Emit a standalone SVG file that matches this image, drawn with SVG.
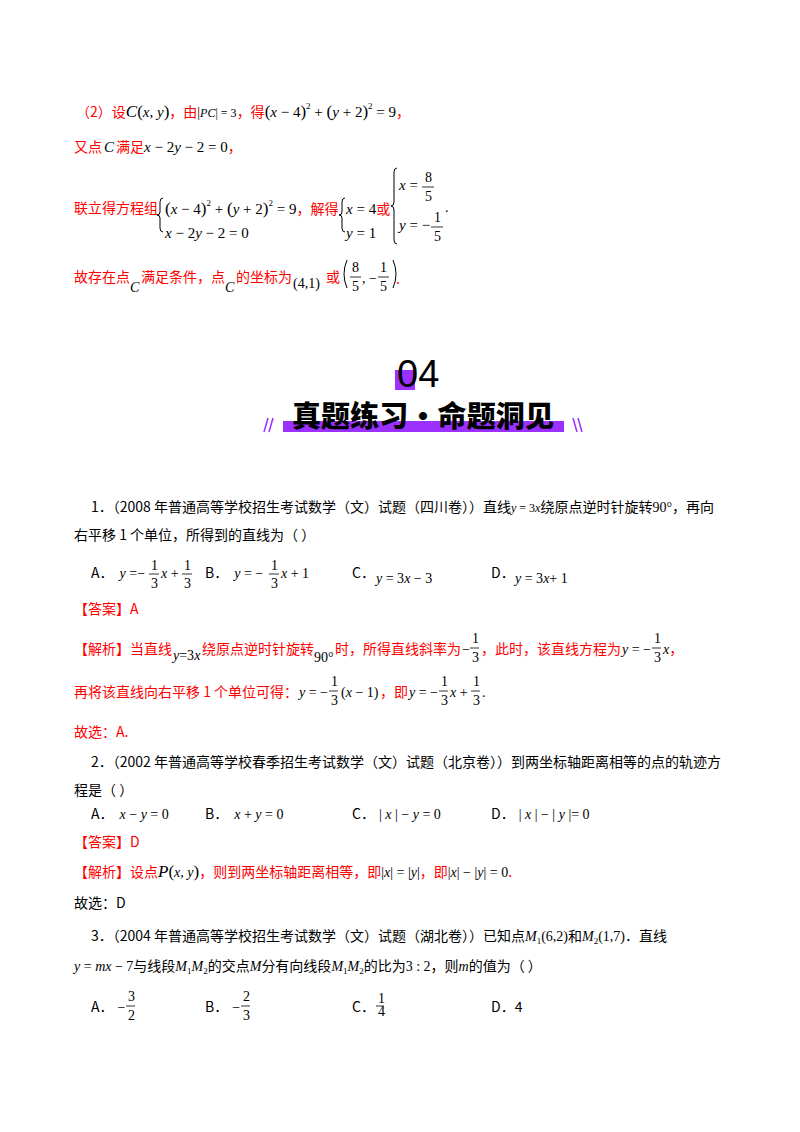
<svg xmlns="http://www.w3.org/2000/svg" width="800" height="1132" viewBox="0 0 800 1132">
<style>
text{font-family:"Liberation Serif","Noto Sans CJK SC",serif;font-size:14px;fill:#000}
.r{fill:#f00;font-family:"Noto Sans CJK SC",sans-serif;font-size:14px}
.k{fill:#000;font-family:"Noto Sans CJK SC",sans-serif;font-size:14px}
.m{font-family:"Liberation Serif",serif;font-style:italic;fill:#000}
.n{font-family:"Liberation Serif",serif;fill:#000}
.p{fill:#9b30ff}
line{stroke:#000;stroke-width:0.8}
.b{fill:none;stroke:#000;stroke-width:1}
</style>
<rect width="800" height="1132" fill="#fff"/>
<g id="part2">
<text x="76" y="117" font-size="15"><tspan class="r">（2）设</tspan><tspan class="m" font-size="17">C</tspan><tspan class="n" font-size="17">(</tspan><tspan class="m" font-size="15">x, y</tspan><tspan class="n" font-size="17">)</tspan><tspan class="r">，由</tspan><tspan class="n">|</tspan><tspan class="m" font-size="12">PC</tspan><tspan class="n" font-size="12">| = 3</tspan><tspan class="r">，得</tspan><tspan class="n" font-size="17">(</tspan><tspan class="m" font-size="15">x</tspan><tspan class="n" font-size="15"> − 4</tspan><tspan class="n" font-size="17">)</tspan><tspan class="n" font-size="9" dy="-8">2</tspan><tspan class="n" font-size="15" dy="8"> + </tspan><tspan class="n" font-size="17">(</tspan><tspan class="m" font-size="15">y</tspan><tspan class="n" font-size="15"> + 2</tspan><tspan class="n" font-size="17">)</tspan><tspan class="n" font-size="9" dy="-8">2</tspan><tspan class="n" font-size="15" dy="8"> = 9</tspan><tspan class="r">，</tspan></text>
<text x="74" y="152"><tspan class="r">又点</tspan><tspan class="m" font-size="15" dx="2">C</tspan><tspan class="r" dx="2">满足</tspan><tspan class="m" font-size="15">x</tspan><tspan class="n" font-size="15"> − 2</tspan><tspan class="m" font-size="15">y</tspan><tspan class="n" font-size="15"> − 2 = 0</tspan><tspan class="r">，</tspan></text>
<text x="74" y="213" class="r">联立得方程组</text>
<path d="M163,198 q-3,0 -3,4 v10 q0,3 -3,3 q3,0 3,3 v10 q0,4 3,4" class="b"/>
<text x="165" y="214" font-size="15"><tspan class="n" font-size="17">(</tspan><tspan class="m" font-size="15">x</tspan><tspan class="n" font-size="15"> − 4</tspan><tspan class="n" font-size="17">)</tspan><tspan class="n" font-size="9" dy="-8">2</tspan><tspan class="n" font-size="15" dy="8"> + </tspan><tspan class="n" font-size="17">(</tspan><tspan class="m" font-size="15">y</tspan><tspan class="n" font-size="15"> + 2</tspan><tspan class="n" font-size="17">)</tspan><tspan class="n" font-size="9" dy="-8">2</tspan><tspan class="n" font-size="15" dy="8"> = 9</tspan><tspan class="r">，解得</tspan></text>
<text x="165" y="238" font-size="15"><tspan class="m" font-size="15">x</tspan><tspan class="n" font-size="15"> − 2</tspan><tspan class="m" font-size="15">y</tspan><tspan class="n" font-size="15"> − 2 = 0</tspan></text>
<path d="M345,198 q-3,0 -3,4 v10 q0,3 -3,3 q3,0 3,3 v10 q0,4 3,4" class="b"/>
<text x="346" y="214" font-size="15"><tspan class="m" font-size="15">x</tspan><tspan class="n" font-size="15"> = 4</tspan><tspan class="r">或</tspan></text>
<text x="346" y="238"><tspan class="m" font-size="15">y</tspan><tspan class="n" font-size="15"> = 1</tspan></text>
<path d="M397,168 q-3,0 -3,4 v30 q0,4 -3,4 q3,0 3,4 v30 q0,4 3,4" class="b"/>
<text x="399" y="190" font-size="15"><tspan class="m" font-size="15">x</tspan><tspan class="n" font-size="15"> = </tspan></text>
<text x="425" y="182" class="n" font-size="15">8</text><line x1="422" y1="187" x2="434" y2="187"/><text x="425" y="201" class="n" font-size="15">5</text>
<text x="399" y="230" font-size="15"><tspan class="m" font-size="15">y</tspan><tspan class="n" font-size="15"> = −</tspan></text>
<text x="434" y="222" class="n" font-size="15">1</text><line x1="431" y1="227" x2="443" y2="227"/><text x="434" y="241" class="n" font-size="15">5</text>
<text x="445" y="212" class="n" font-size="8">.</text>
<text x="74" y="282" class="r">故存在点</text>
<text x="130" y="292" class="m" font-size="15">C</text>
<text x="141" y="282" class="r">满足条件，点</text>
<text x="225" y="292" class="m" font-size="15">C</text>
<text x="236" y="282" class="r">的坐标为</text>
<text x="293" y="288" class="n" font-size="15">(4,1)</text>
<text x="326" y="282" class="r">或</text>
<path d="M347,260 q-6,14 0,28" class="b"/>
<text x="352" y="272" class="n" font-size="15">8</text><line x1="350" y1="277" x2="361" y2="277"/><text x="352" y="291" class="n" font-size="15">5</text>
<text x="362" y="283" class="n" font-size="15">, −</text>
<text x="380" y="272" class="n" font-size="15">1</text><line x1="378" y1="277" x2="389" y2="277"/><text x="380" y="291" class="n" font-size="15">5</text>
<path d="M393,260 q6,14 0,28" class="b"/>
<text x="396" y="284" class="r">.</text>
</g>
<g id="header">
<rect x="395" y="370" width="20" height="20" class="p"/>
<text x="397" y="387" style="font-family:'Liberation Sans',sans-serif;font-size:38px" fill="#222">04</text>
<rect x="283" y="421" width="281" height="11" class="p"/>
<text x="292" y="427" textLength="262" style="font-family:'Noto Sans CJK SC',sans-serif;font-size:29px;font-weight:900" fill="#111">真题练习·命题洞见</text>
<path d="M268,418 l-4,14 M273,418 l-4,14" stroke="#9b30ff" stroke-width="1.5"/>
<path d="M573,418 l4,14 M578,418 l4,14" stroke="#9b30ff" stroke-width="1.5"/>
</g>
<g id="q1">
<text x="91" y="512"><tspan class="k">1．（2008 年普通高等学校招生考试数学（文）试题（四川卷））直线</tspan><tspan class="m" font-size="12">y</tspan><tspan class="n" font-size="12"> = 3</tspan><tspan class="m" font-size="12">x</tspan><tspan class="k">绕原点逆时针旋转</tspan><tspan class="n">90°</tspan><tspan class="k">，再向</tspan></text>
<text x="74" y="540" class="k">右平移 1 个单位，所得到的直线为（    ）</text>
<text x="91" y="578"><tspan class="k">A．</tspan><tspan class="m" dx="6">y</tspan><tspan class="n"> =−</tspan></text>
<text x="151" y="570" class="n" font-size="12">1</text><line x1="149" y1="574" x2="159" y2="574"/><text x="151" y="588" class="n" font-size="12">3</text>
<text x="161" y="578"><tspan class="m">x</tspan><tspan class="n"> + </tspan></text>
<text x="184" y="570" class="n" font-size="12">1</text><line x1="182" y1="574" x2="192" y2="574"/><text x="184" y="588" class="n" font-size="12">3</text>
<text x="205" y="578"><tspan class="k">B．</tspan><tspan class="m" dx="6">y</tspan><tspan class="n"> = −</tspan></text>
<text x="271" y="570" class="n" font-size="12">1</text><line x1="269" y1="574" x2="279" y2="574"/><text x="271" y="588" class="n" font-size="12">3</text>
<text x="281" y="578"><tspan class="m">x</tspan><tspan class="n"> + 1</tspan></text>
<text x="352" y="578" class="k">C．</text>
<text x="376" y="583"><tspan class="m">y</tspan><tspan class="n"> = 3</tspan><tspan class="m">x</tspan><tspan class="n"> − 3</tspan></text>
<text x="491" y="578" class="k">D．</text>
<text x="515" y="583" font-size="12"><tspan class="m">y</tspan><tspan class="n"> =  3</tspan><tspan class="m">x</tspan><tspan class="n">+  1</tspan></text>
<text x="74" y="614" class="r">【答案】A</text>
<text x="74" y="654" class="r">【解析】当直线</text>
<text x="173" y="660"><tspan class="m">y</tspan><tspan class="n">=3</tspan><tspan class="m">x</tspan></text>
<text x="202" y="654" class="r">绕原点逆时针旋转</text>
<text x="314" y="662" class="n">90°</text>
<text x="335" y="654" class="r">时，所得直线斜率为</text>
<text x="462" y="654" class="n">−</text>
<text x="472" y="643" class="n" font-size="12">1</text><line x1="470" y1="648" x2="479" y2="648"/><text x="472" y="662" class="n" font-size="12">3</text>
<text x="481" y="654" class="r">，此时，该直线方程为</text>
<text x="622" y="654"><tspan class="m">y</tspan><tspan class="n"> = −</tspan></text>
<text x="654" y="643" class="n" font-size="12">1</text><line x1="652" y1="648" x2="661" y2="648"/><text x="654" y="662" class="n" font-size="12">3</text>
<text x="663" y="654"><tspan class="m">x</tspan><tspan class="r">，</tspan></text>
<text x="74" y="697" class="r">再将该直线向右平移 1 个单位可得：</text>
<text x="299" y="697"><tspan class="m">y</tspan><tspan class="n"> = −</tspan></text>
<text x="331" y="686" class="n" font-size="12">1</text><line x1="329" y1="691" x2="338" y2="691"/><text x="331" y="705" class="n" font-size="12">3</text>
<text x="341" y="697"><tspan class="n">(</tspan><tspan class="m">x</tspan><tspan class="n"> − 1)</tspan></text>
<text x="380" y="697" class="r">，即</text>
<text x="409" y="697"><tspan class="m">y</tspan><tspan class="n"> = −</tspan></text>
<text x="441" y="686" class="n" font-size="12">1</text><line x1="439" y1="691" x2="448" y2="691"/><text x="441" y="705" class="n" font-size="12">3</text>
<text x="450" y="697"><tspan class="m">x</tspan><tspan class="n"> + </tspan></text>
<text x="473" y="686" class="n" font-size="12">1</text><line x1="471" y1="691" x2="480" y2="691"/><text x="473" y="705" class="n" font-size="12">3</text>
<text x="482" y="697" class="n">.</text>
<text x="74" y="737" class="r">故选：A.</text>
</g>
<g id="q2">
<text x="91" y="767" class="k">2．（2002 年普通高等学校春季招生考试数学（文）试题（北京卷））到两坐标轴距离相等的点的轨迹方</text>
<text x="74" y="795" class="k">程是（    ）</text>
<text x="91" y="819"><tspan class="k">A．</tspan><tspan class="m" dx="6">x</tspan><tspan class="n"> − </tspan><tspan class="m">y</tspan><tspan class="n"> = 0</tspan></text>
<text x="205" y="819"><tspan class="k">B．</tspan><tspan class="m" dx="6">x</tspan><tspan class="n"> + </tspan><tspan class="m">y</tspan><tspan class="n"> = 0</tspan></text>
<text x="352" y="819"><tspan class="k">C．</tspan><tspan class="n" dx="4">| </tspan><tspan class="m">x</tspan><tspan class="n"> | − </tspan><tspan class="m">y</tspan><tspan class="n"> = 0</tspan></text>
<text x="491" y="819"><tspan class="k">D．</tspan><tspan class="n" dx="4">| </tspan><tspan class="m">x</tspan><tspan class="n"> | − | </tspan><tspan class="m">y</tspan><tspan class="n"> |= 0</tspan></text>
<text x="74" y="847" class="r">【答案】D</text>
<text x="74" y="877"><tspan class="r">【解析】设点</tspan><tspan class="m" font-size="17">P</tspan><tspan class="n" font-size="17">(</tspan><tspan class="m">x, y</tspan><tspan class="n" font-size="17">)</tspan><tspan class="r">，则到两坐标轴距离相等，即</tspan><tspan class="n">|</tspan><tspan class="m">x</tspan><tspan class="n">| = |</tspan><tspan class="m">y</tspan><tspan class="n">|</tspan><tspan class="r">，即</tspan><tspan class="n">|</tspan><tspan class="m">x</tspan><tspan class="n">| − |</tspan><tspan class="m">y</tspan><tspan class="n">| = 0</tspan><tspan class="r">.</tspan></text>
<text x="74" y="908" class="k">故选：D</text>
</g>
<g id="q3">
<text x="91" y="941"><tspan class="k">3．（2004 年普通高等学校招生考试数学（文）试题（湖北卷））已知点</tspan><tspan class="m">M</tspan><tspan class="n" font-size="9" dy="3">1</tspan><tspan class="n" dy="-3">(6,2)</tspan><tspan class="k">和</tspan><tspan class="m">M</tspan><tspan class="n" font-size="9" dy="3">2</tspan><tspan class="n" dy="-3">(1,7)</tspan><tspan class="k">．直线</tspan></text>
<text x="74" y="971"><tspan class="m">y</tspan><tspan class="n"> = </tspan><tspan class="m">mx</tspan><tspan class="n"> − 7</tspan><tspan class="k">与线段</tspan><tspan class="m">M</tspan><tspan class="n" font-size="9" dy="3">1</tspan><tspan class="m" dy="-3">M</tspan><tspan class="n" font-size="9" dy="3">2</tspan><tspan class="k" dy="-3">的交点</tspan><tspan class="m">M</tspan><tspan class="k">分有向线段</tspan><tspan class="m">M</tspan><tspan class="n" font-size="9" dy="3">1</tspan><tspan class="m" dy="-3">M</tspan><tspan class="n" font-size="9" dy="3">2</tspan><tspan class="k" dy="-3">的比为</tspan><tspan class="n">3 : 2</tspan><tspan class="k">，则</tspan><tspan class="m">m</tspan><tspan class="k">的值为（    ）</tspan></text>
<text x="91" y="1012"><tspan class="k">A．</tspan><tspan class="n" dx="4">−</tspan></text>
<text x="128" y="1001" class="n" font-size="12">3</text><line x1="126" y1="1006" x2="135" y2="1006"/><text x="128" y="1020" class="n" font-size="12">2</text>
<text x="205" y="1012"><tspan class="k">B．</tspan><tspan class="n" dx="4">−</tspan></text>
<text x="243" y="1001" class="n" font-size="12">2</text><line x1="241" y1="1006" x2="250" y2="1006"/><text x="243" y="1020" class="n" font-size="12">3</text>
<text x="352" y="1012" class="k">C．</text>
<text x="378" y="1003" class="n" font-size="10">1</text><line x1="376" y1="1006" x2="384" y2="1006"/><text x="378" y="1016" class="n" font-size="10">4</text>
<text x="491" y="1012" class="k">D．4</text>
</g>
</svg>
